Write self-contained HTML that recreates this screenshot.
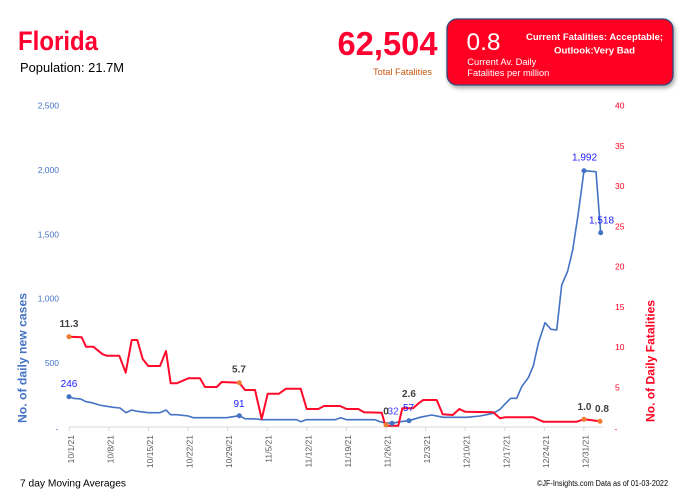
<!DOCTYPE html>
<html><head><meta charset="utf-8"><style>
html,body{margin:0;padding:0;background:#fff;}
svg{display:block;font-family:"Liberation Sans",sans-serif;}
</style></head><body>
<svg width="684" height="496" viewBox="0 0 684 496" xmlns="http://www.w3.org/2000/svg">
<defs>
<filter id="sh" x="-10%" y="-10%" width="125%" height="140%">
<feDropShadow dx="1.5" dy="2.5" stdDeviation="2" flood-color="#000" flood-opacity="0.35"/>
</filter>
</defs>
<rect width="684" height="496" fill="#fff"/>
<!-- header -->
<text x="18" y="50" font-size="27" font-weight="bold" fill="#FF0030" textLength="80" lengthAdjust="spacingAndGlyphs">Florida</text>
<text x="20" y="72" font-size="13" fill="#000" textLength="104" lengthAdjust="spacingAndGlyphs">Population: 21.7M</text>
<text x="337.5" y="55" font-size="33" font-weight="bold" fill="#FF0030" textLength="100" lengthAdjust="spacingAndGlyphs">62,504</text>
<text x="373" y="75" font-size="9" fill="#C65911" textLength="59" lengthAdjust="spacingAndGlyphs">Total Fatalities</text>
<rect x="447" y="19" width="226" height="66" rx="10" ry="10" fill="#FF0022" stroke="#2F4B7C" stroke-width="1.3" filter="url(#sh)"/>
<text x="466.5" y="50" font-size="24" fill="#fff" textLength="34" lengthAdjust="spacingAndGlyphs">0.8</text>
<text x="467.3" y="65" font-size="9" fill="#fff" textLength="69" lengthAdjust="spacingAndGlyphs">Current Av. Daily</text>
<text x="467.3" y="76" font-size="9" fill="#fff" textLength="82" lengthAdjust="spacingAndGlyphs">Fatalities per million</text>
<text x="594.5" y="40" font-size="9.5" font-weight="bold" fill="#fff" text-anchor="middle" textLength="137" lengthAdjust="spacingAndGlyphs">Current Fatalities: Acceptable;</text>
<text x="594.5" y="53.5" font-size="9.5" font-weight="bold" fill="#fff" text-anchor="middle" textLength="81" lengthAdjust="spacingAndGlyphs">Outlook:Very Bad</text>

<!-- left axis labels -->
<g font-size="8.5" fill="#4472C4" text-anchor="end">
<text x="59" y="108.5">2,500</text>
<text x="59" y="173">2,000</text>
<text x="59" y="237.3">1,500</text>
<text x="59" y="301.7">1,000</text>
<text x="59" y="366.1">500</text>
<text x="58.5" y="431.5">-</text>
</g>
<!-- right axis labels -->
<g font-size="8.5" fill="#FF0020">
<text x="615" y="108.5">40</text>
<text x="615" y="148.8">35</text>
<text x="615" y="189">30</text>
<text x="615" y="229.3">25</text>
<text x="615" y="269.5">20</text>
<text x="615" y="309.8">15</text>
<text x="615" y="350">10</text>
<text x="615" y="390.3">5</text>
<text x="614.5" y="431.5">-</text>
</g>
<!-- axis titles -->
<text transform="translate(26.5,358) rotate(-90)" font-size="12" font-weight="bold" fill="#4472C4" text-anchor="middle" textLength="130" lengthAdjust="spacingAndGlyphs">No. of daily new  cases</text>
<text transform="translate(654.5,361) rotate(-90)" font-size="12" font-weight="bold" fill="#FF0020" text-anchor="middle" textLength="122" lengthAdjust="spacingAndGlyphs">No. of Daily Fatalities</text>

<!-- x axis -->
<line x1="69" y1="427" x2="603" y2="427" stroke="#D9D9D9" stroke-width="1"/>
<g stroke="#D9D9D9" stroke-width="1">
<line x1="69.3" y1="427" x2="69.3" y2="431"/>
<line x1="108.9" y1="427" x2="108.9" y2="431"/>
<line x1="148.5" y1="427" x2="148.5" y2="431"/>
<line x1="188.1" y1="427" x2="188.1" y2="431"/>
<line x1="227.6" y1="427" x2="227.6" y2="431"/>
<line x1="267.2" y1="427" x2="267.2" y2="431"/>
<line x1="306.8" y1="427" x2="306.8" y2="431"/>
<line x1="346.4" y1="427" x2="346.4" y2="431"/>
<line x1="386" y1="427" x2="386" y2="431"/>
<line x1="425.6" y1="427" x2="425.6" y2="431"/>
<line x1="465.2" y1="427" x2="465.2" y2="431"/>
<line x1="504.8" y1="427" x2="504.8" y2="431"/>
<line x1="544.3" y1="427" x2="544.3" y2="431"/>
<line x1="583.9" y1="427" x2="583.9" y2="431"/>
</g>
<g font-size="8.5" fill="#595959" text-anchor="end">
<text transform="translate(73.8,435) rotate(-90)">10/1/21</text>
<text transform="translate(113.4,435) rotate(-90)">10/8/21</text>
<text transform="translate(153,435) rotate(-90)">10/15/21</text>
<text transform="translate(192.6,435) rotate(-90)">10/22/21</text>
<text transform="translate(232.1,435) rotate(-90)">10/29/21</text>
<text transform="translate(271.7,435) rotate(-90)">11/5/21</text>
<text transform="translate(311.3,435) rotate(-90)">11/12/21</text>
<text transform="translate(350.9,435) rotate(-90)">11/19/21</text>
<text transform="translate(390.5,435) rotate(-90)">11/26/21</text>
<text transform="translate(430.1,435) rotate(-90)">12/3/21</text>
<text transform="translate(469.7,435) rotate(-90)">12/10/21</text>
<text transform="translate(509.3,435) rotate(-90)">12/17/21</text>
<text transform="translate(548.8,435) rotate(-90)">12/24/21</text>
<text transform="translate(588.4,435) rotate(-90)">12/31/21</text>
</g>

<!-- series: cases (blue) -->
<polyline fill="none" stroke="#4472C4" stroke-width="1.6" stroke-linejoin="round" points="69,396.7 73.3,398.3 80.7,399 86,401.7 91.7,402.7 99.3,405 106.7,406.3 113.3,407.3 120,408 126,412.7 131.7,410 137.3,411.3 148.3,412.7 160,412.7 166,410 170.7,414.7 176.7,414.7 188.3,416 193.3,417.7 226.7,417.7 239.3,415.7 245,418.7 256.7,419 261.7,419.7 296.7,419.7 300.7,421.7 306,419.7 335,419.7 340.7,417.7 346.7,419.7 375,419.7 380,421.7 385,422.7 392,423.3 400,421.7 409,420.7 420,417.3 431.7,415 443.3,417.3 466.7,417.3 480,416 493.3,413.3 500,409.3 506.7,402.3 510.7,398.3 516.7,398.3 521.7,386.7 528.3,377.7 533.3,366 538.3,343.3 545,322.7 551,329.3 556.7,330 561.7,285 567.7,271 572.7,250 578.3,213.3 584,170.7 596,171.7 600.7,232.7"/>
<!-- series: fatalities (red) -->
<polyline fill="none" stroke="#FF0A2A" stroke-width="2" stroke-linejoin="round" points="69,336.7 81.7,337.3 86,346.7 93.3,346.7 102.7,354.3 106.7,355.7 119.3,355.7 125.7,372.7 131.7,340 137.3,340 142.7,359 148.3,366 160,366 166,351 170.7,383.3 176.7,383.3 188.3,378.3 200,378.3 205,387 216.7,387 221.7,382 239.3,382.7 245,390 255,390 261.7,419 267.7,393.7 279,393.7 286,388.7 300.7,388.7 306.7,409 318.3,409 324,406 340,406 346.7,409 358.3,409 364,412.3 381.7,412.7 385,424.3 386,425.7 398.3,425.7 402.3,408.3 413,408.3 419.3,402.7 423.3,400 436.7,400 442.7,414.3 452.7,415 459.3,409 465,411.7 493.3,412.3 500,418.3 505,417.3 533.3,417.3 543.3,421.7 576.7,421.7 584,419.3 600,421.3"/>

<!-- markers -->
<g fill="#4472C4">
<circle cx="69" cy="396.7" r="2.5"/>
<circle cx="239.3" cy="415.7" r="2.5"/>
<circle cx="392" cy="423.3" r="2.5"/>
<circle cx="409" cy="420.7" r="2.5"/>
<circle cx="584" cy="170.7" r="2.5"/>
<circle cx="600.7" cy="232.7" r="2.5"/>
</g>
<g fill="#ED7D31">
<circle cx="69" cy="336.7" r="2.5"/>
<circle cx="239.3" cy="382.7" r="2.5"/>
<circle cx="386" cy="424.8" r="2.5"/>
<circle cx="584" cy="419.3" r="2.5"/>
<circle cx="600" cy="421.3" r="2.5"/>
</g>

<!-- data labels -->
<g font-size="10" font-weight="bold" fill="#404040" text-anchor="middle">
<text x="69" y="327">11.3</text>
<text x="239" y="372.5">5.7</text>
<text x="409" y="397">2.6</text>
<text x="584.5" y="410">1.0</text>
<text x="602" y="412">0.8</text>
<text x="386" y="414.5" text-anchor="middle">0</text>
</g>
<g font-size="10" fill="#1A1AFF" text-anchor="middle">
<text x="69" y="387">246</text>
<text x="239" y="407">91</text>
<text x="393" y="414.5" fill-opacity="0.85">32</text>
<text x="408.5" y="411">57</text>
<text x="584.5" y="160.5">1,992</text>
<text x="601.5" y="223.5">1,518</text>
</g>

<!-- footer -->
<text x="20" y="486.5" font-size="10" fill="#000" textLength="106" lengthAdjust="spacingAndGlyphs">7 day Moving Averages</text>
<text x="537" y="486" font-size="8" fill="#000" textLength="131" lengthAdjust="spacingAndGlyphs">©JF-Insights.com  Data as of 01-03-2022</text>
</svg>
</body></html>
